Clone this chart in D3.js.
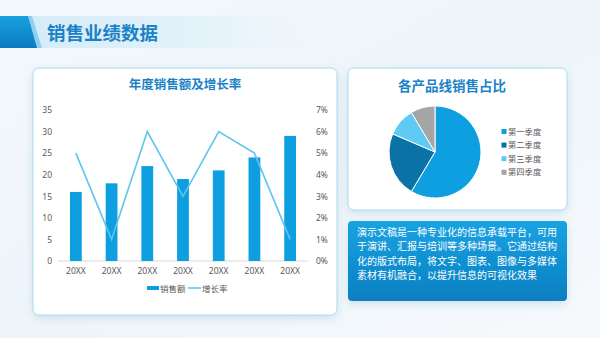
<!DOCTYPE html>
<html><head><meta charset="utf-8">
<script src="https://cdn.jsdelivr.net/npm/d3@7"></script>
<style>
html,body{margin:0;padding:0;width:600px;height:338px;overflow:hidden;background:#fff}
svg{display:block;font-family:"Noto Sans CJK SC","Noto Sans",sans-serif}
</style></head><body>
<svg id="c" width="600" height="338"></svg>
<script>
const pageTitle = "销售业绩数据";
const barTitle = "年度销售额及增长率";
const categories = ["20XX","20XX","20XX","20XX","20XX","20XX","20XX"];
const sales = [16,18,22,19,21,24,29];
const growth = [5,1,6,3,6,5,1];
const leftTicks = [0,5,10,15,20,25,30,35];
const rightTicks = [0,1,2,3,4,5,6,7];
const seriesNames = ["销售额","增长率"];
const pieTitle = "各产品线销售占比";
const pieLabels = ["第一季度","第二季度","第三季度","第四季度"];
const pieValues = [8.2,3.2,1.4,1.2];
const pieColors = ["#0d9fe0","#0b72a6","#5fcaf4","#a5a5a5"];
const bodyText = ["演示文稿是一种专业化的信息承载平台，可用","于演讲、汇报与培训等多种场景。它通过结构","化的版式布局，将文字、图表、图像与多媒体","素材有机融合，以提升信息的可视化效果"];

const svg = d3.select("#c");
const defs = svg.append("defs");

// background
const bg = defs.append("linearGradient").attr("id","bg").attr("x1",0).attr("y1",0).attr("x2",1).attr("y2",1);
bg.append("stop").attr("offset","0%").attr("stop-color","#f3f8fc");
bg.append("stop").attr("offset","50%").attr("stop-color","#eef5fa");
bg.append("stop").attr("offset","100%").attr("stop-color","#f6f9fc");
svg.append("rect").attr("width",600).attr("height",338).attr("fill","url(#bg)");

// header band
const hb = defs.append("linearGradient").attr("id","hb").attr("x1",0).attr("x2",1);
hb.append("stop").attr("offset","0%").attr("stop-color","#d5ecf8");
hb.append("stop").attr("offset","60%").attr("stop-color","#e6f3fa");
hb.append("stop").attr("offset","100%").attr("stop-color","#f3f8fc").attr("stop-opacity",0);
svg.append("rect").attr("x",30).attr("y",16).attr("width",320).attr("height",32).attr("fill","url(#hb)");
const hd = defs.append("linearGradient").attr("id","hd").attr("x1",0).attr("x2",0).attr("y1",0).attr("y2",1);
hd.append("stop").attr("offset","0%").attr("stop-color","#1aa0e0");
hd.append("stop").attr("offset","100%").attr("stop-color","#0a7cc0");
svg.append("path").attr("d","M0,16 L32,16 L42,48 L0,48 Z").attr("fill","#8fd0f0");
svg.append("path").attr("d","M0,16 L28,16 L37,48 L0,48 Z").attr("fill","url(#hd)");
svg.append("text").attr("x",47).attr("y",40).attr("font-size",18.5).attr("font-weight",700)
  .attr("fill","#1a82c6").text(pageTitle);

// shadow filter
const f = defs.append("filter").attr("id","sh").attr("x","-10%").attr("y","-10%").attr("width","120%").attr("height","130%");
f.append("feDropShadow").attr("dx",0).attr("dy",3).attr("stdDeviation",4).attr("flood-color","#8fb8d0").attr("flood-opacity",0.35);

// panels
svg.append("rect").attr("x",33).attr("y",68).attr("width",304).attr("height",247).attr("rx",6)
  .attr("fill","#fff").attr("stroke","#a9dbf1").attr("stroke-width",1).attr("filter","url(#sh)");
svg.append("rect").attr("x",348).attr("y",68).attr("width",219).attr("height",142).attr("rx",6)
  .attr("fill","#fff").attr("stroke","#a9dbf1").attr("stroke-width",1).attr("filter","url(#sh)");
const tb = defs.append("linearGradient").attr("id","tb").attr("x1",0).attr("x2",0).attr("y1",0).attr("y2",1);
tb.append("stop").attr("offset","0%").attr("stop-color","#16a3e2");
tb.append("stop").attr("offset","100%").attr("stop-color","#0b7fc1");
svg.append("rect").attr("x",348).attr("y",221).attr("width",219).attr("height",80).attr("rx",4)
  .attr("fill","url(#tb)").attr("filter","url(#sh)");

// bar chart
svg.append("text").attr("x",185).attr("y",89).attr("text-anchor","middle").attr("font-size",12.5)
  .attr("font-weight",700).attr("fill","#1a82c6").text(barTitle);

const x = d3.scaleBand().domain(d3.range(categories.length)).range([58,308]).paddingInner(0.67).paddingOuter(0.335);
const yL = d3.scaleLinear().domain([0,35]).range([261,110]);
const yR = d3.scaleLinear().domain([0,7]).range([261,110]);

const g = svg.append("g");
g.append("line").attr("x1",58).attr("x2",308).attr("y1",yL(0)).attr("y2",yL(0)).attr("stroke","#d9d9d9").attr("stroke-width",1);

const axL = g.append("g").attr("transform","translate(52,0)").call(d3.axisLeft(yL).tickValues(leftTicks).tickSize(0).tickPadding(0));
const axR = g.append("g").attr("transform","translate(316,0)").call(d3.axisRight(yR).tickValues(rightTicks).tickSize(0).tickPadding(0).tickFormat(d=>d+"%"));
const axB = g.append("g").attr("transform","translate(0,"+(yL(0)+5)+")").call(d3.axisBottom(x).tickSize(0).tickPadding(0).tickFormat(i=>categories[i]));
[axL,axR,axB].forEach(a=>{a.select(".domain").remove();a.selectAll("text").attr("font-size",8.5).attr("fill","#595959").attr("font-family","'Noto Sans','Noto Sans CJK SC',sans-serif");});
axB.selectAll("text").attr("dy","0.9em");

g.selectAll("rect.bar").data(sales).join("rect").attr("class","bar")
  .attr("x",(d,i)=>x(i)).attr("width",x.bandwidth()).attr("y",d=>yL(d)).attr("height",d=>yL(0)-yL(d)).attr("fill","#0d9fe0");

const line = d3.line().x((d,i)=>x(i)+x.bandwidth()/2).y(d=>yR(d));
g.append("path").datum(growth).attr("d",line).attr("fill","none").attr("stroke","#5dc6ee").attr("stroke-width",1.6);

// legend
const lg = svg.append("g").attr("font-size",8.5).attr("fill","#595959");
lg.append("rect").attr("x",147).attr("y",286).attr("width",12).attr("height",4).attr("fill","#0d9fe0");
lg.append("text").attr("x",160).attr("y",291.5).text(seriesNames[0]);
lg.append("line").attr("x1",188).attr("x2",201).attr("y1",288).attr("y2",288).attr("stroke","#5dc6ee").attr("stroke-width",1.6);
lg.append("text").attr("x",202).attr("y",291.5).text(seriesNames[1]);

// pie
svg.append("text").attr("x",452).attr("y",91).attr("text-anchor","middle").attr("font-size",13.5)
  .attr("font-weight",700).attr("fill","#1a82c6").text(pieTitle);
const pie = d3.pie().sort(null)(pieValues);
const arc = d3.arc().innerRadius(0).outerRadius(46);
svg.append("g").attr("transform","translate(435,152)").selectAll("path").data(pie).join("path")
  .attr("d",arc).attr("fill",(d,i)=>pieColors[i]).attr("stroke","#fff").attr("stroke-width",1);
const pl = svg.append("g").attr("font-size",8.3).attr("fill","#595959");
pieLabels.forEach((t,i)=>{
  const yy = 131.5 + i*13.6;
  pl.append("rect").attr("x",501.5).attr("y",yy-2.5).attr("width",5).attr("height",5).attr("fill",pieColors[i]);
  pl.append("text").attr("x",508).attr("y",yy+3).text(t);
});

// body text
svg.append("g").selectAll("text").data(bodyText).join("text")
  .attr("x",357).attr("y",(d,i)=>236+i*14.3).attr("font-size",10).attr("fill","#fff").text(d=>d);
</script>
</body></html>
